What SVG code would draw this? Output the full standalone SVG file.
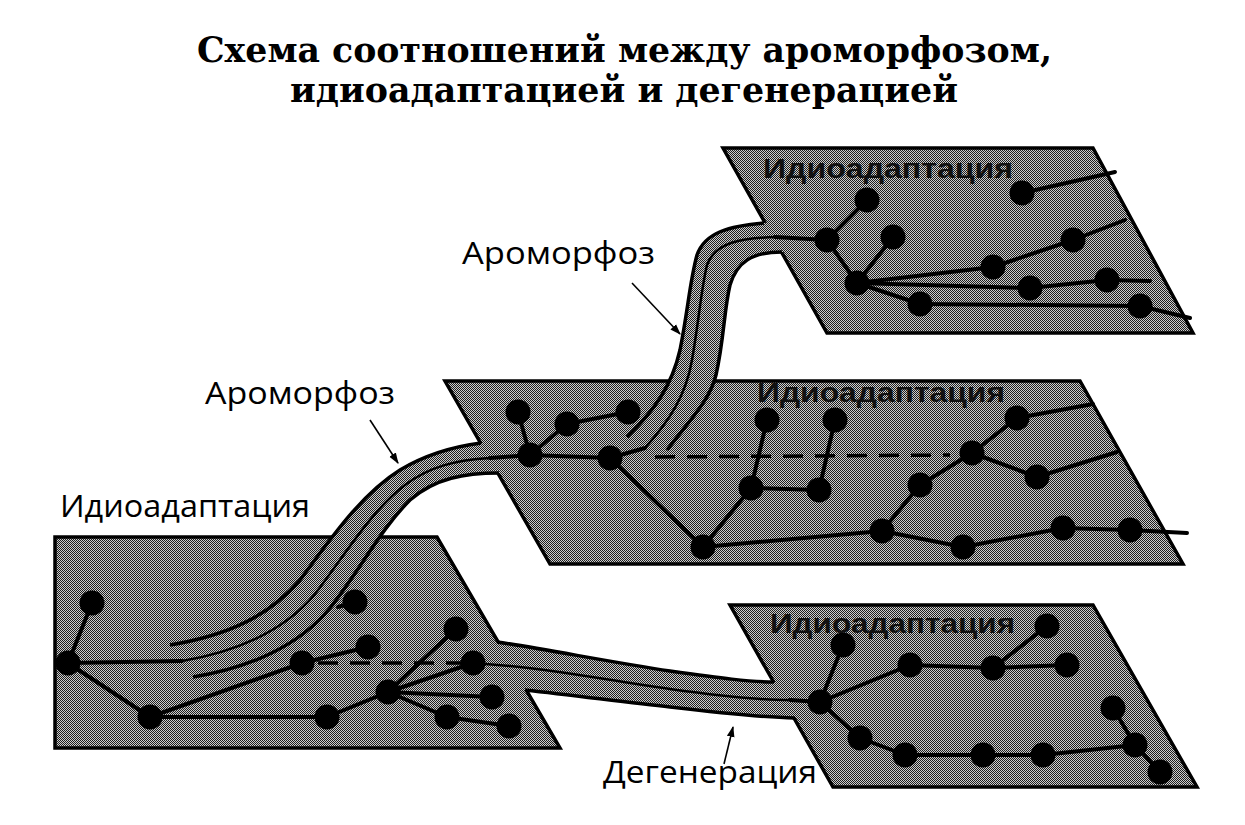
<svg xmlns="http://www.w3.org/2000/svg" width="1245" height="825" viewBox="0 0 1245 825">
<defs>
<pattern id="ht" width="2" height="2" patternUnits="userSpaceOnUse">
<rect width="2" height="2" fill="#cdcdcd"/>
<rect width="1" height="1" fill="#1e1e1e"/>
<rect x="1" y="1" width="1" height="1" fill="#1e1e1e"/>
</pattern>
<marker id="ah" viewBox="0 0 10 10" refX="9" refY="5" markerWidth="11" markerHeight="11" markerUnits="userSpaceOnUse" orient="auto"><path d="M0,1.5 L10,5 L0,8.5 Z" fill="#000"/></marker>
<clipPath id="clip2"><polygon points="445,381 1080,381 1183,564 550,564"/></clipPath>
</defs>
<style>
.plane{fill:url(#ht);stroke:#000;stroke-width:3.5;stroke-linejoin:miter}
.tfill{fill:url(#ht);stroke:none}
.tedge{fill:none;stroke:#000;stroke-width:3.5;stroke-linecap:butt}
.tmid{fill:none;stroke:#000;stroke-width:2.5}
.ln{stroke:#000;stroke-width:4;fill:none;stroke-linecap:round}
.dash{stroke:#000;stroke-width:3.5;stroke-dasharray:20 12;fill:none}
.dot{fill:#000}
.title{font-family:"DejaVu Serif","Liberation Serif",serif;font-weight:bold;font-size:36px;fill:#000}
.lbl{font-family:"Open Sans","Noto Sans","Liberation Sans",sans-serif;font-size:31px;fill:#000}
.plbl{font-family:"Liberation Sans","Noto Sans",sans-serif;font-weight:bold;font-size:28px;fill:#111}
.arr{stroke:#000;stroke-width:1.6;fill:none}
</style>
<rect width="1245" height="825" fill="#fff"/>

<g id="title">
<text class="title" x="197" y="62" textLength="855" lengthAdjust="spacingAndGlyphs">Схема соотношений между ароморфозом,</text>
<text class="title" x="290" y="102" textLength="668" lengthAdjust="spacingAndGlyphs">идиоадаптацией и дегенерацией</text>
</g>

<g id="planes">
<polygon id="plane-top" class="plane" points="723,148 1093,148 1193,333 827,333"/>
<polygon id="plane-middle" class="plane" points="445,381 1080,381 1183,564 550,564"/>
<polygon id="plane-left" class="plane" points="55,537 437,537 560,748 55,748"/>
<polygon id="plane-bottom" class="plane" points="730,605 1093,605 1197,787 833,787"/>
</g>

<g id="tubes">
<g id="tube-aromorphosis-1">
<path class="tfill" d="M 170 645 C 230 635, 270 615, 300 580 C 330 540, 360 495, 400 470 C 425 455, 450 447, 481 443 L 500 441 L 515 473 L 499 473 C 465 473, 435 478, 410 500 C 380 530, 360 570, 330 608 C 300 645, 250 668, 193 677 Z"/>
<path class="tedge" d="M 170 645 C 230 635, 270 615, 300 580 C 330 540, 360 495, 400 470 C 425 455, 450 447, 481 443"/>
<path class="tedge" d="M 193 677 C 250 668, 300 645, 330 608 C 360 570, 380 530, 410 500 C 435 478, 465 473, 499 473"/>
<path class="tmid" d="M 182 661 C 240 651, 285 630, 315 594 C 345 555, 370 512, 405 485 C 430 466, 457 460, 490 458"/>
</g>
<g id="tube-aromorphosis-2">
<path class="tfill" d="M 627 437 C 655 410, 672 385, 680 350 C 688 310, 690 280, 697 255 C 705 232, 730 226, 764 223 L 780 221 L 796 252 L 782 252 C 752 252, 737 262, 730 285 C 724 310, 724 340, 716 375 C 710 400, 690 420, 667 450 Z"/>
<path class="tedge" d="M 627 437 C 655 410, 672 385, 680 350 C 688 310, 690 280, 697 255 C 705 232, 730 226, 764 223"/>
<path class="tedge" d="M 667 450 C 690 420, 710 400, 716 375 C 724 340, 724 310, 730 285 C 737 262, 752 252, 782 252"/>
<path class="tmid" d="M 645 448 C 670 420, 686 395, 692 360 C 699 320, 701 290, 707 265 C 715 242, 742 238, 775 237"/>
</g>
<g id="tube-degeneration">
<path class="tfill" d="M 482 640 L 497 642 C 540 648, 610 662, 670 671 C 720 678, 750 682, 774 682 L 790 680 L 810 718 L 795 718 C 760 717, 720 713, 670 707 C 630 703, 580 696, 525 690 L 510 692 Z"/>
<path class="tedge" d="M 497 642 C 540 648, 610 662, 670 671 C 720 678, 750 682, 774 682"/>
<path class="tedge" d="M 525 690 C 580 696, 630 703, 670 707 C 720 713, 760 717, 795 718"/>
<path class="tmid" d="M 473 663 L 510 666 C 570 672, 625 683, 670 689 C 720 696, 760 700, 790 700"/>
</g>
</g>

<g id="connectors">
<g id="lines-left">
<line class="ln" x1="92" y1="603" x2="68" y2="663"/>
<line class="ln" x1="68" y1="663" x2="182" y2="661"/>
<line class="ln" x1="68" y1="663" x2="150" y2="717"/>
<line class="ln" x1="150" y1="717" x2="302" y2="663"/>
<line class="ln" x1="150" y1="717" x2="327" y2="717"/>
<line class="ln" x1="327" y1="717" x2="388" y2="692"/>
<line class="ln" x1="302" y1="663" x2="368" y2="647"/>
<line class="ln" x1="355" y1="602" x2="338" y2="607"/>
<line class="ln" x1="388" y1="692" x2="456" y2="629"/>
<line class="ln" x1="388" y1="692" x2="473" y2="663"/>
<line class="ln" x1="388" y1="692" x2="447" y2="717"/>
<line class="ln" x1="388" y1="692" x2="492" y2="697"/>
<line class="ln" x1="447" y1="717" x2="509" y2="726"/>
<line class="dash" x1="318" y1="663" x2="465" y2="663"/>
</g>
<g id="lines-middle">
<polyline class="ln" points="490,458 530,455 610,458 645,448"/>
<line class="ln" x1="518" y1="412" x2="530" y2="455"/>
<line class="ln" x1="530" y1="455" x2="567" y2="424"/>
<line class="ln" x1="567" y1="424" x2="628" y2="412"/>
<line class="ln" x1="610" y1="458" x2="703" y2="547"/>
<line class="ln" x1="703" y1="547" x2="751" y2="488"/>
<line class="ln" x1="767" y1="420" x2="751" y2="488"/>
<line class="ln" x1="835" y1="420" x2="819" y2="490"/>
<line class="ln" x1="751" y1="488" x2="819" y2="490"/>
<line class="ln" x1="703" y1="547" x2="882" y2="531"/>
<line class="ln" x1="882" y1="531" x2="920" y2="485"/>
<line class="ln" x1="920" y1="485" x2="972" y2="453"/>
<line class="ln" x1="882" y1="531" x2="963" y2="547"/>
<line class="ln" x1="963" y1="547" x2="1063" y2="528"/>
<line class="ln" x1="1063" y1="528" x2="1130" y2="530"/>
<line class="ln" x1="1130" y1="530" x2="1187" y2="533"/>
<line class="ln" x1="972" y1="453" x2="1017" y2="418"/>
<line class="ln" x1="1017" y1="418" x2="1093" y2="404"/>
<line class="ln" x1="972" y1="453" x2="1037" y2="477"/>
<line class="ln" x1="1037" y1="477" x2="1117" y2="452"/>
<line class="dash" x1="655" y1="457" x2="950" y2="455"/>
</g>
<g id="lines-top">
<line class="ln" x1="775" y1="237" x2="827" y2="240"/>
<line class="ln" x1="827" y1="240" x2="867" y2="200"/>
<line class="ln" x1="827" y1="240" x2="857" y2="283"/>
<line class="ln" x1="857" y1="283" x2="893" y2="237"/>
<line class="ln" x1="857" y1="283" x2="993" y2="267"/>
<line class="ln" x1="993" y1="267" x2="1073" y2="240"/>
<line class="ln" x1="1073" y1="240" x2="1125" y2="220"/>
<line class="ln" x1="857" y1="283" x2="1030" y2="288"/>
<line class="ln" x1="1030" y1="288" x2="1107" y2="280"/>
<line class="ln" x1="1107" y1="280" x2="1150" y2="281"/>
<line class="ln" x1="857" y1="283" x2="920" y2="304"/>
<polyline class="ln" points="920,304 1140,306 1190,318"/>
<line class="ln" x1="1022" y1="193" x2="1115" y2="172"/>
</g>
<g id="lines-bottom">
<line class="ln" x1="790" y1="700" x2="820" y2="702"/>
<line class="ln" x1="820" y1="702" x2="843" y2="645"/>
<line class="ln" x1="820" y1="702" x2="910" y2="665"/>
<line class="ln" x1="820" y1="702" x2="860" y2="738"/>
<line class="ln" x1="910" y1="665" x2="993" y2="668"/>
<line class="ln" x1="993" y1="668" x2="1047" y2="626"/>
<line class="ln" x1="993" y1="668" x2="1067" y2="665"/>
<line class="ln" x1="860" y1="738" x2="905" y2="755"/>
<line class="ln" x1="905" y1="755" x2="983" y2="755"/>
<line class="ln" x1="983" y1="755" x2="1043" y2="755"/>
<line class="ln" x1="1043" y1="755" x2="1135" y2="745"/>
<line class="ln" x1="1113" y1="708" x2="1135" y2="745"/>
<line class="ln" x1="1135" y1="745" x2="1160" y2="772"/>
</g>
</g>

<g id="nodes-left" class="dot">
<circle cx="92" cy="603" r="12.5"/><circle cx="68" cy="663" r="12.5"/><circle cx="150" cy="717" r="12.5"/>
<circle cx="355" cy="602" r="12.5"/><circle cx="368" cy="647" r="12.5"/><circle cx="302" cy="663" r="12.5"/>
<circle cx="327" cy="717" r="12.5"/><circle cx="388" cy="692" r="12.5"/><circle cx="456" cy="629" r="12.5"/>
<circle cx="473" cy="663" r="12.5"/><circle cx="492" cy="697" r="12.5"/><circle cx="447" cy="717" r="12.5"/>
<circle cx="509" cy="726" r="12.5"/>
</g>
<g id="nodes-middle" class="dot">
<circle cx="518" cy="412" r="12.5"/><circle cx="567" cy="424" r="12.5"/><circle cx="628" cy="412" r="12.5"/>
<circle cx="530" cy="455" r="12.5"/><circle cx="610" cy="458" r="12.5"/><circle cx="767" cy="420" r="12.5"/>
<circle cx="751" cy="488" r="12.5"/><circle cx="703" cy="547" r="12.5"/><circle cx="835" cy="420" r="12.5"/>
<circle cx="819" cy="490" r="12.5"/><circle cx="920" cy="485" r="12.5"/><circle cx="882" cy="531" r="12.5"/>
<circle cx="963" cy="547" r="12.5"/><circle cx="972" cy="453" r="12.5"/><circle cx="1017" cy="418" r="12.5"/>
<circle cx="1037" cy="477" r="12.5"/><circle cx="1063" cy="528" r="12.5"/><circle cx="1130" cy="530" r="12.5"/>
</g>
<g id="nodes-top" class="dot">
<circle cx="867" cy="200" r="12.5"/><circle cx="827" cy="240" r="12.5"/><circle cx="893" cy="237" r="12.5"/>
<circle cx="857" cy="283" r="12.5"/><circle cx="920" cy="304" r="12.5"/><circle cx="993" cy="267" r="12.5"/>
<circle cx="1030" cy="288" r="12.5"/><circle cx="1073" cy="240" r="12.5"/><circle cx="1022" cy="193" r="12.5"/>
<circle cx="1107" cy="280" r="12.5"/><circle cx="1140" cy="306" r="12.5"/>
</g>
<g id="nodes-bottom" class="dot">
<circle cx="843" cy="645" r="12.5"/><circle cx="820" cy="702" r="12.5"/><circle cx="860" cy="738" r="12.5"/>
<circle cx="910" cy="665" r="12.5"/><circle cx="993" cy="668" r="12.5"/><circle cx="1047" cy="626" r="12.5"/>
<circle cx="1067" cy="665" r="12.5"/><circle cx="905" cy="755" r="12.5"/><circle cx="983" cy="755" r="12.5"/>
<circle cx="1043" cy="755" r="12.5"/><circle cx="1113" cy="708" r="12.5"/><circle cx="1135" cy="745" r="12.5"/>
<circle cx="1160" cy="772" r="12.5"/>
</g>

<g id="plane-labels">
<text class="plbl" x="763" y="178" textLength="250" lengthAdjust="spacingAndGlyphs">Идиоадаптация</text>
<text class="plbl" x="757" y="402" textLength="248" lengthAdjust="spacingAndGlyphs" clip-path="url(#clip2)">Идиоадаптация</text>
<text class="plbl" x="770" y="633" textLength="245" lengthAdjust="spacingAndGlyphs">Идиоадаптация</text>
</g>

<g id="labels">
<text class="lbl" x="462" y="264" textLength="193" lengthAdjust="spacingAndGlyphs">Ароморфоз</text>
<text class="lbl" x="205" y="404" textLength="190" lengthAdjust="spacingAndGlyphs">Ароморфоз</text>
<text class="lbl" x="60" y="517" textLength="250" lengthAdjust="spacingAndGlyphs">Идиоадаптация</text>
<text class="lbl" x="603" y="783" textLength="214" lengthAdjust="spacingAndGlyphs">Дегенерация</text>
</g>

<g id="arrows">
<line class="arr" x1="632" y1="283" x2="680" y2="334" marker-end="url(#ah)"/>
<line class="arr" x1="370" y1="420" x2="398" y2="463" marker-end="url(#ah)"/>
<line class="arr" x1="724" y1="764" x2="733" y2="727" marker-end="url(#ah)"/>
</g>
</svg>
